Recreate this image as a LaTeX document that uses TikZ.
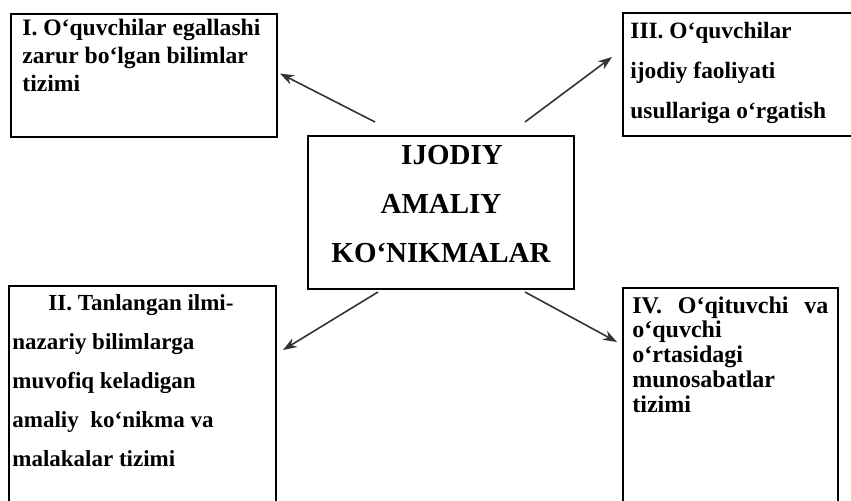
\documentclass[tikz,border=0pt]{standalone}
\usepackage{fontspec}
\setmainfont{Liberation Serif}
\usetikzlibrary{arrows.meta,calc}
\begin{document}
\begin{tikzpicture}[x=0.5pt,y=-0.5pt,
  box/.style={draw=black,line width=1pt,inner sep=0pt,anchor=north west},
  txt/.style={inner sep=0pt,anchor=north west,align=left,font=\bfseries},
  arr/.style={draw=black!80,line width=0.8pt,-{Stealth[length=7pt,width=5pt]}}]
\useasboundingbox (0,0) rectangle (851,501);
% boxes
\node[box,minimum width=133pt,minimum height=61.5pt] (b1) at (10,13) {};
\node[box,minimum width=115pt,minimum height=61.5pt] (b3) at (622,12) {};
\node[box,minimum width=133pt,minimum height=76.5pt] (c) at (307,135) {};
\node[box,minimum width=133.5pt,minimum height=110pt] (b2) at (8,285) {};
\node[box,minimum width=107.5pt,minimum height=110pt] (b4) at (622,287) {};
% texts
\node[txt,font=\bfseries\fontsize{11.8}{14}\selectfont] (t1) at (22,19)
  {I. O‘quvchilar egallashi\\zarur bo‘lgan bilimlar\\tizimi};
\node[txt,font=\bfseries\fontsize{11.7}{20}\selectfont] (t3) at (630,22)
  {III. O‘quvchilar\\ijodiy faoliyati\\usullariga o‘rgatish};
\node[txt,font=\bfseries\fontsize{14.5}{24.5}\selectfont,align=center,anchor=center] (tc) at ($(c.center)+(0,-8)$)
  {\hspace*{11pt}IJODIY\\AMALIY\\KO‘NIKMALAR};
\node[txt,font=\bfseries\fontsize{11.5}{19.5}\selectfont] (t2) at (12,294)
  {\hspace*{18pt}II. Tanlangan ilmi-\\nazariy bilimlarga\\muvofiq keladigan\\amaliy\ \ ko‘nikma va\\malakalar tizimi};
\node[txt,font=\bfseries\fontsize{12}{12.4}\selectfont] (t4) at (632,296)
  {\hbox to 98pt{IV.\hfill O‘qituvchi\hfill va}\\o‘quvchi\\o‘rtasidagi\\munosabatlar\\tizimi};
% arrow coordinates
\coordinate (s1) at (375,122);
\coordinate (s3) at (525,122);
\coordinate (s2) at (378,292);
\coordinate (s4) at (525,292);
\coordinate (e3) at (612,57);
\coordinate (e2) at (283,350);
\coordinate (e4) at (617,342);
\draw[arr] (s1) -- ($(b1.east)+(2,-2)$) coordinate (e1);
\draw[arr] (s3) -- (e3);
\draw[arr] (s2) -- (e2);
\draw[arr] (s4) -- (e4);
\end{tikzpicture}
\end{document}
